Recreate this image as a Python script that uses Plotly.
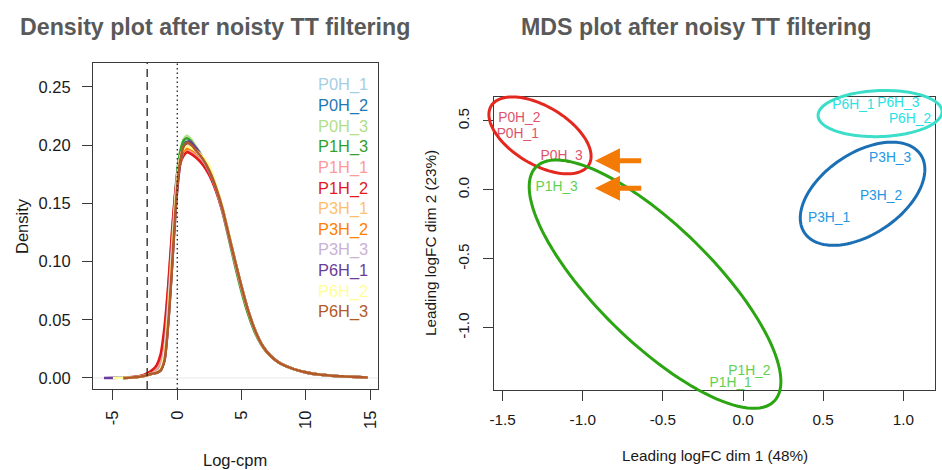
import numpy as np
import plotly.graph_objects as go

# ---------------- data ----------------
SAMPLES = ["P0H_1", "P0H_2", "P0H_3", "P1H_3", "P1H_1", "P1H_2",
           "P3H_1", "P3H_2", "P3H_3", "P6H_1", "P6H_2", "P6H_3"]
PAIRED = ["#A6CEE3", "#1F78B4", "#B2DF8A", "#33A02C", "#FB9A99", "#E31A1C",
          "#FDBF6F", "#FF7F00", "#CAB2D6", "#6A3D9A", "#FFFF99", "#B15928"]

LOG_CPM = [-5.7, -5.0, -4.2, -3.5, -2.8, -2.3, -1.9, -1.6, -1.3, -1.0, -0.7, -0.4,
           -0.15, 0.05, 0.25, 0.5, 0.75, 1.0, 1.5, 2.0, 2.5, 3.0, 3.5, 4.0, 4.5,
           5.0, 5.5, 6.0, 6.5, 7.0, 7.5, 8.0, 9.0, 10.0, 11.0, 12.0, 13.0, 14.0, 14.8]

TAIL = [0.0165, 0.0125, 0.0078, 0.0048, 0.0029, 0.0019, 0.0013, 0.0008, 0.0004]

d_P0H_1 = [None, None, 0.0001, 0.0005, 0.0015, 0.0032, 0.0048, 0.0065, 0.012, 0.033, 0.075, 0.125, 0.162, 0.180, 0.191, 0.198, 0.200, 0.199, 0.194, 0.187, 0.177, 0.163, 0.145, 0.122, 0.099, 0.077, 0.058, 0.042, 0.030, 0.022] + TAIL
d_P0H_2 = [None, None, 0.0001, 0.0005, 0.0014, 0.0030, 0.0045, 0.0060, 0.0105, 0.029, 0.070, 0.120, 0.159, 0.180, 0.193, 0.201, 0.203, 0.202, 0.196, 0.188, 0.178, 0.164, 0.146, 0.123, 0.100, 0.078, 0.058, 0.042, 0.030, 0.022] + TAIL
d_P0H_3 = [None, None, 0.0001, 0.0004, 0.0013, 0.0028, 0.0040, 0.0052, 0.009, 0.025, 0.064, 0.115, 0.157, 0.182, 0.196, 0.205, 0.208, 0.206, 0.198, 0.189, 0.178, 0.163, 0.145, 0.122, 0.099, 0.077, 0.057, 0.041, 0.030, 0.022] + TAIL
d_P1H_3 = [None, None, 0.0001, 0.0004, 0.0013, 0.0028, 0.0040, 0.0052, 0.009, 0.025, 0.064, 0.115, 0.157, 0.181, 0.195, 0.204, 0.206, 0.204, 0.196, 0.187, 0.177, 0.162, 0.143, 0.120, 0.096, 0.074, 0.055, 0.040, 0.029, 0.0215] + TAIL
d_P1H_1 = [None, None, 0.0002, 0.0006, 0.0017, 0.0036, 0.0056, 0.008, 0.015, 0.037, 0.077, 0.124, 0.159, 0.177, 0.188, 0.194, 0.196, 0.195, 0.190, 0.184, 0.175, 0.161, 0.144, 0.122, 0.099, 0.077, 0.058, 0.042, 0.030, 0.022] + TAIL
d_P1H_2 = [None, None, 0.0002, 0.0007, 0.0019, 0.0042, 0.0072, 0.011, 0.020, 0.043, 0.080, 0.127, 0.159, 0.175, 0.185, 0.191, 0.194, 0.193, 0.189, 0.183, 0.174, 0.161, 0.144, 0.122, 0.099, 0.077, 0.058, 0.042, 0.030, 0.022] + TAIL
d_P3H_1 = [None, None, 0.0001, 0.0004, 0.0012, 0.0026, 0.0039, 0.0048, 0.0078, 0.020, 0.055, 0.106, 0.150, 0.175, 0.189, 0.196, 0.198, 0.197, 0.193, 0.187, 0.178, 0.164, 0.146, 0.123, 0.100, 0.078, 0.058, 0.042, 0.030, 0.022] + TAIL
d_P3H_2 = [None, None, 0.0000, 0.0004, 0.0012, 0.0025, 0.0038, 0.0045, 0.0065, 0.015, 0.048, 0.098, 0.142, 0.169, 0.185, 0.195, 0.197, 0.197, 0.193, 0.187, 0.178, 0.164, 0.146, 0.123, 0.100, 0.078, 0.058, 0.042, 0.030, 0.022] + TAIL
d_P3H_3 = [None, None, 0.0001, 0.0004, 0.0013, 0.0028, 0.0040, 0.0052, 0.009, 0.025, 0.064, 0.114, 0.154, 0.177, 0.190, 0.198, 0.200, 0.199, 0.194, 0.187, 0.177, 0.163, 0.145, 0.122, 0.099, 0.077, 0.058, 0.042, 0.030, 0.022] + TAIL
d_P6H_1 = [0.0000, 0.0001, 0.0002, 0.0004, 0.0012, 0.0025, 0.0038, 0.0045, 0.0065, 0.015, 0.048, 0.097, 0.141, 0.168, 0.186, 0.198, 0.202, 0.203, 0.197, 0.189, 0.178, 0.164, 0.146, 0.123, 0.100, 0.078, 0.058, 0.042, 0.030, 0.022] + TAIL
d_P6H_2 = [None, 0.0000, 0.0002, 0.0004, 0.0012, 0.0026, 0.0039, 0.0048, 0.0078, 0.020, 0.055, 0.106, 0.150, 0.175, 0.190, 0.197, 0.199, 0.198, 0.195, 0.190, 0.182, 0.166, 0.147, 0.124, 0.100, 0.078, 0.058, 0.042, 0.030, 0.022] + TAIL
d_P6H_3 = [None, None, 0.0000, 0.0004, 0.0012, 0.0025, 0.0038, 0.0045, 0.0065, 0.015, 0.048, 0.098, 0.143, 0.171, 0.188, 0.199, 0.202, 0.201, 0.195, 0.188, 0.178, 0.164, 0.146, 0.123, 0.100, 0.078, 0.058, 0.042, 0.030, 0.022] + TAIL

DENSITIES = [d_P0H_1, d_P0H_2, d_P0H_3, d_P1H_3, d_P1H_1, d_P1H_2,
             d_P3H_1, d_P3H_2, d_P3H_3, d_P6H_1, d_P6H_2, d_P6H_3]

CUTOFF = -2.34   # dashed line (log-cpm cutoff)

DENS_XTICKS = [-5, 0, 5, 10, 15]
DENS_YTICKS = [0.0, 0.05, 0.10, 0.15, 0.20, 0.25]
DENS_YTEXT = ["0.00", "0.05", "0.10", "0.15", "0.20", "0.25"]

# MDS
MDS_LABELS = ["P0H_2", "P0H_1", "P0H_3", "P1H_3", "P1H_2", "P1H_1",
              "P6H_1", "P6H_3", "P6H_2", "P3H_3", "P3H_2", "P3H_1"]
MDS_DIM1 = [-1.396, -1.406, -1.132, -1.163, 0.040, -0.077,
            0.689, 0.969, 1.042, 0.918, 0.861, 0.537]
MDS_DIM2 = [0.514, 0.399, 0.238, 0.014, -1.320, -1.400,
            0.608, 0.623, 0.512, 0.224, -0.046, -0.209]
MDS_GROUP = ["P0H", "P0H", "P0H", "P1H", "P1H", "P1H",
             "P6H", "P6H", "P6H", "P3H", "P3H", "P3H"]
GROUP_COLOR = {"P0H": "#DF536B", "P1H": "#61D04F", "P3H": "#2297E6", "P6H": "#28E2E5"}

MDS_XTICKS = [-1.5, -1.0, -0.5, 0.0, 0.5, 1.0]
MDS_XTEXT = ["-1.5", "-1.0", "-0.5", "0.0", "0.5", "1.0"]
MDS_YTICKS = [-1.0, -0.5, 0.0, 0.5]
MDS_YTEXT = ["-1.0", "-0.5", "0.0", "0.5"]

# ---------------- layout geometry ----------------
W, H = 942, 470
FONT = "Liberation Sans, Arial, Helvetica, sans-serif"
L_BOX = (93, 378, 63, 389)      # left, right, top, bottom (px)
R_BOX = (494, 935, 97, 390)
DENS_XR = [-6.55, 15.6]
DENS_YR = [-0.0095, 0.2706]
MDS_XR = [-1.554, 1.198]
MDS_YR = [-1.45, 0.673]


def dom(box):
    l, r, t, b = box
    return [l / W, r / W], [1 - b / H, 1 - t / H]


fig = go.Figure()

# density curves
for name, col, ys in zip(SAMPLES, PAIRED, DENSITIES):
    fig.add_trace(go.Scatter(x=LOG_CPM, y=ys, mode="lines", name=name,
                             line=dict(color=col, width=2.6, shape="spline", smoothing=0.7),
                             xaxis="x", yaxis="y", showlegend=False, hoverinfo="skip"))

# MDS labels
fig.add_trace(go.Scatter(x=MDS_DIM1, y=MDS_DIM2, mode="text", text=MDS_LABELS,
                         textposition="middle center",
                         textfont=dict(family=FONT, size=13.8,
                                       color=[GROUP_COLOR[g] for g in MDS_GROUP]),
                         xaxis="x2", yaxis="y2", showlegend=False, cliponaxis=False,
                         hoverinfo="skip"))

axis_common = dict(showgrid=False, zeroline=False, showline=True, mirror=True,
                   linecolor="#3a3a3a", linewidth=1, ticks="outside", ticklen=10,
                   tickcolor="#3a3a3a", tickwidth=1, fixedrange=True, automargin=False)

lx, ly = dom(L_BOX)
rx, ry = dom(R_BOX)

fig.update_layout(
    width=W, height=H, autosize=False, margin=dict(l=0, r=0, t=0, b=0),
    paper_bgcolor="white", plot_bgcolor="white",
    font=dict(family=FONT, color="#1a1a1a"),
    xaxis=dict(domain=lx, range=DENS_XR, tickvals=DENS_XTICKS,
               ticktext=[str(v) for v in DENS_XTICKS], tickangle=-90,
               tickfont=dict(size=16.5), ticklabelstandoff=4,
               anchor="y", **axis_common),
    yaxis=dict(domain=ly, range=DENS_YR, tickvals=DENS_YTICKS, ticktext=DENS_YTEXT,
               tickfont=dict(size=16.5), ticklabelstandoff=8,
               anchor="x", **axis_common),
    xaxis2=dict(domain=rx, range=MDS_XR, tickvals=MDS_XTICKS, ticktext=MDS_XTEXT,
                tickfont=dict(size=15.3), ticklabelstandoff=6,
                anchor="y2", **axis_common),
    yaxis2=dict(domain=ry, range=MDS_YR, tickvals=MDS_YTICKS, ticktext=MDS_YTEXT,
                tickangle=-90, tickfont=dict(size=15.3), ticklabelstandoff=8,
                anchor="x2", **axis_common),
)

# reference lines on density panel
shapes = [
    dict(type="line", xref="x", yref="y domain", x0=CUTOFF, x1=CUTOFF, y0=0, y1=1,
         line=dict(color="#222", width=1.3, dash="8px,5px")),
    dict(type="line", xref="x", yref="y domain", x0=0, x1=0, y0=0, y1=1,
         line=dict(color="#222", width=1.3, dash="1.5px,3px")),
    dict(type="line", xref="x domain", yref="y", x0=0, x1=1, y0=0, y1=0,
         line=dict(color="#e8e8e8", width=1), layer="below"),
]


# ellipses around MDS groups (center in data units, radii in px, angle in deg)
def mds_px(x, y):
    l, r, t, b = R_BOX
    px = l + (x - MDS_XR[0]) / (MDS_XR[1] - MDS_XR[0]) * (r - l)
    py = b - (y - MDS_YR[0]) / (MDS_YR[1] - MDS_YR[0]) * (b - t)
    return px, py


ELLIPSES = [  # (cx, cy, a_px, b_px, angle_deg, colour)
    (-1.267, 0.395, 57, 29, 31, "#E5281F"),
    (-0.549, -0.683, 167, 58, 44.5, "#2BA512"),
    (0.746, -0.028, 70, 40.5, -34, "#1B6FB4"),
    (0.855, 0.553, 62, 23, -2, "#3CDEC9"),
]
t = np.linspace(0, 2 * np.pi, 121)
for cx, cy, a, b, ang, col in ELLIPSES:
    pcx, pcy = mds_px(cx, cy)
    th = np.radians(ang)
    ex, ey = a * np.cos(t), b * np.sin(t)
    px = pcx + ex * np.cos(th) - ey * np.sin(th)
    py = pcy + ex * np.sin(th) + ey * np.cos(th)
    path = "M " + " L ".join(f"{x / W:.5f},{1 - y / H:.5f}" for x, y in zip(px, py)) + " Z"
    shapes.append(dict(type="path", xref="paper", yref="paper", path=path,
                       line=dict(color=col, width=3)))
fig.update_layout(shapes=shapes)

annotations = []
# legend of density panel (coloured text)
for i, (name, col) in enumerate(zip(SAMPLES, PAIRED)):
    annotations.append(dict(xref="paper", yref="paper", x=369.5 / W, y=1 - (85 + i * 20.6) / H,
                            text=name, showarrow=False, xanchor="right", yanchor="middle",
                            font=dict(family=FONT, size=16.4, color=col)))
# titles
annotations.append(dict(xref="paper", yref="paper", x=214.5 / W, y=1 - 27 / H,
                        text="<b>Density plot after noisty TT filtering</b>", showarrow=False,
                        xanchor="center", yanchor="middle",
                        font=dict(family=FONT, size=23.2, color="#595959")))
annotations.append(dict(xref="paper", yref="paper", x=695.8 / W, y=1 - 27 / H,
                        text="<b>MDS plot after noisy TT filtering</b>", showarrow=False,
                        xanchor="center", yanchor="middle",
                        font=dict(family=FONT, size=23.2, color="#595959")))
# axis titles
AXIS_TITLES = [  # (text, x_px, y_px, angle, size)
    ("Log-cpm", 235, 460, 0, 16.5),
    ("Density", 22, 226, -90, 16.5),
    ("Leading logFC dim 1 (48%)", 715, 455, 0, 15.3),
    ("Leading logFC dim 2 (23%)", 430, 243, -90, 15.3),
]
for txt, x, y, ang, size in AXIS_TITLES:
    annotations.append(dict(xref="paper", yref="paper", x=x / W, y=1 - y / H, text=txt,
                            showarrow=False, xanchor="center", yanchor="middle",
                            textangle=ang, font=dict(family=FONT, size=size, color="#1a1a1a")))
# orange arrows
ARROWS = [(-0.924, 0.211, -0.626), (-0.924, 0.0115, -0.626)]
for tipx, y, tailx in ARROWS:
    annotations.append(dict(xref="x2", yref="y2", axref="x2", ayref="y2",
                            x=tipx, y=y, ax=tailx, ay=y, text="", showarrow=True,
                            arrowhead=2, arrowsize=1.0, arrowwidth=5,
                            arrowcolor="#F47A06", standoff=0, startstandoff=0))
fig.update_layout(annotations=annotations)

fig.write_html("out.html",
               config={"displayModeBar": False, "staticPlot": True, "responsive": False},
               post_script="document.body.style.margin='0';document.body.style.overflow='hidden';")
